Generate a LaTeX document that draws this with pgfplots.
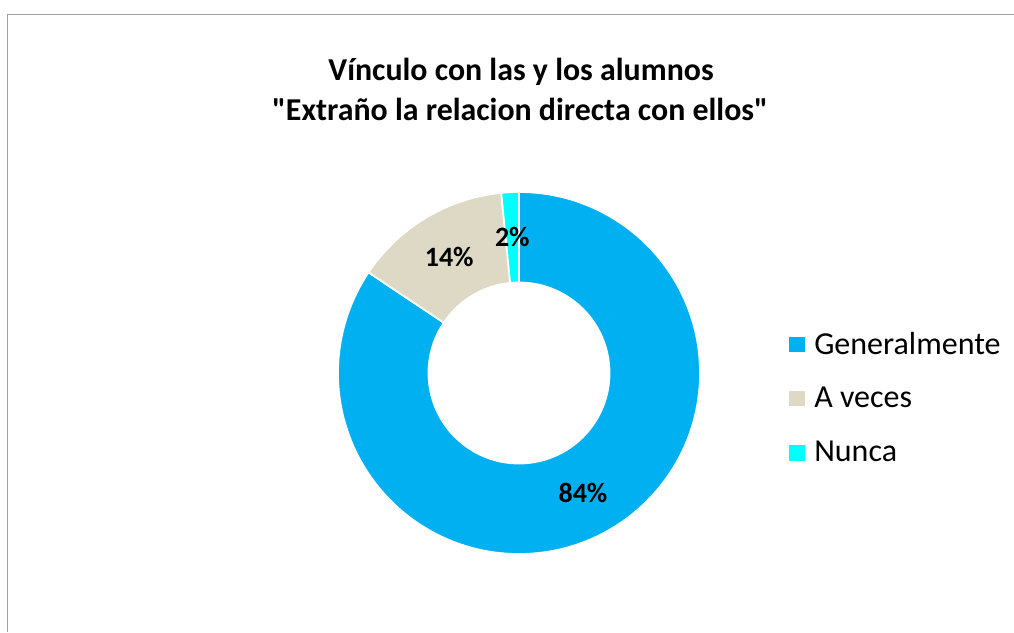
\documentclass[border=0pt]{standalone}
\usepackage{pgfplots}
\usepackage{pgfplotstable}
\pgfplotsset{compat=1.18}
\usetikzlibrary{calc}
\usepackage{fontspec}
\setmainfont{Carlito}
\definecolor{cGen}{HTML}{00B0F0}
\definecolor{cAve}{HTML}{DDD9C4}
\definecolor{cNun}{HTML}{00FFFF}
\definecolor{cFrame}{HTML}{A0A0A0}
% share of answers (%), in clockwise order from 12 o'clock
\pgfplotstableread[col sep=comma]{
cat,value,color
Generalmente,84.375,cGen
A veces,14.0625,cAve
Nunca,1.5625,cNun
}\donutdata
\def\Ro{135.75pt}% outer radius (181 px)
\def\Ri{67.9pt}% inner radius (90.5 px)
\def\Rm{101.8pt}% label radius
\begin{document}
\begin{tikzpicture}
\begin{axis}[
  x=0.75pt, y=0.75pt,
  xmin=0, xmax=1014, ymin=0, ymax=632,
  hide axis, clip=false,
  anchor=origin, at={(0pt,0pt)},
]
% frame
\draw[cFrame, line width=1.3pt] (axis cs:7.5,0) -- (axis cs:7.5,617.5) -- (axis cs:1014,617.5);
% title
\node[anchor=base, font=\bfseries\fontsize{23.9}{28}\selectfont] at (axis cs:521,551) {Vínculo con las y los alumnos};
\node[anchor=base, font=\bfseries\fontsize{23.9}{28}\selectfont] at (axis cs:520,511) {\textquotedbl Extraño la relacion directa con ellos\textquotedbl};
% donut
\coordinate (c) at (axis cs:519,259);
\pgfplotstablegetrowsof{\donutdata}
\pgfmathtruncatemacro\N{\pgfplotsretval-1}
\gdef\curang{90}
\pgfplotsforeachungrouped \i in {0,...,\N}{%
  \pgfplotstablegetelem{\i}{value}\of\donutdata \let\v\pgfplotsretval
  \pgfplotstablegetelem{\i}{color}\of\donutdata \let\col\pgfplotsretval
  \pgfmathsetmacro\endang{\curang-3.6*\v}%
  \edef\temp{\noexpand\fill[\col, draw=white, line width=1.3pt]
    ($(c)+(\curang:\Ro)$) arc[start angle=\curang, end angle=\endang, radius=\Ro]
    -- ($(c)+(\endang:\Ri)$) arc[start angle=\endang, end angle=\curang, radius=\Ri] -- cycle;}%
  \temp
  \global\let\curang\endang
}
\gdef\curang{90}
\pgfplotsforeachungrouped \i in {0,...,\N}{%
  \pgfplotstablegetelem{\i}{value}\of\donutdata \let\v\pgfplotsretval
  \pgfmathsetmacro\endang{\curang-3.6*\v}%
  \pgfmathsetmacro\midang{(\curang+\endang)/2}%
  \pgfmathtruncatemacro\lbl{round(\v)}%
  \edef\temp{\noexpand\node[font=\noexpand\bfseries\noexpand\fontsize{21}{25}\noexpand\selectfont]
    at ($(c)+(\midang:\Rm)$) {\lbl\noexpand\%};}%
  \temp
  \global\let\curang\endang
}
% legend
\fill[cGen] (axis cs:789,295) rectangle (axis cs:805,280);
\fill[cAve] (axis cs:789,241) rectangle (axis cs:805,226);
\fill[cNun] (axis cs:789,187) rectangle (axis cs:805,171);
\node[anchor=base west, inner sep=0pt, font=\fontsize{24}{28}\selectfont] at (axis cs:814,277) {Generalmente};
\node[anchor=base west, inner sep=0pt, font=\fontsize{24}{28}\selectfont] at (axis cs:814,224) {A veces};
\node[anchor=base west, inner sep=0pt, font=\fontsize{24}{28}\selectfont] at (axis cs:814,170) {Nunca};
\end{axis}
\pgfresetboundingbox
\useasboundingbox (0pt,0pt) rectangle (760.5pt,474pt);
\end{tikzpicture}
\end{document}
